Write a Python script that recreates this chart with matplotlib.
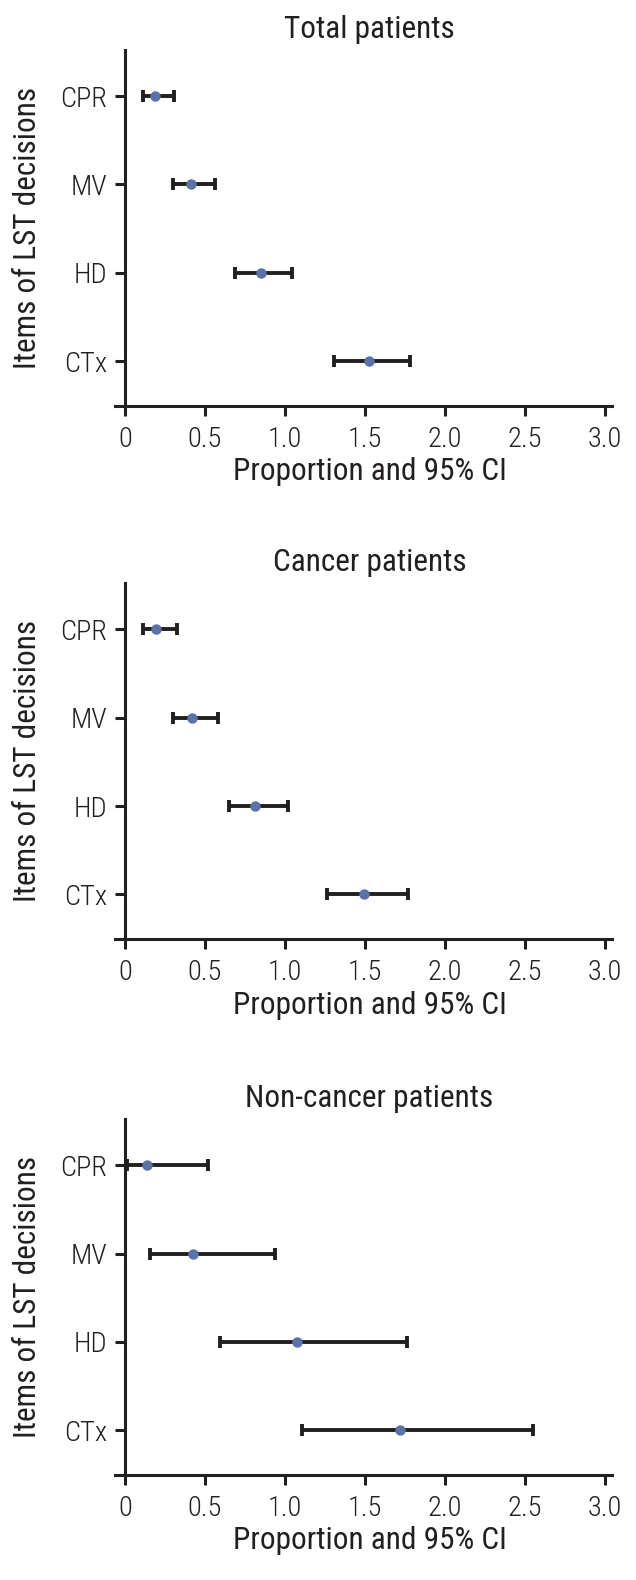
import matplotlib
matplotlib.use("Agg")
import matplotlib.pyplot as plt

plt.rcParams['font.family'] = ['Roboto Condensed', 'Archivo Narrow', 'DejaVu Sans']

items = ["CTx", "HD", "MV", "CPR"]
titles = ["Total patients", "Cancer patients", "Non-cancer patients"]

total_est = [1.523, 0.848, 0.414, 0.19]
total_lo = [1.305, 0.685, 0.30, 0.114]
total_hi = [1.78, 1.046, 0.56, 0.305]

cancer_est = [1.492, 0.815, 0.419, 0.195]
cancer_lo = [1.264, 0.65, 0.30, 0.114]
cancer_hi = [1.772, 1.02, 0.579, 0.322]

noncancer_est = [1.721, 1.076, 0.426, 0.14]
noncancer_lo = [1.104, 0.596, 0.157, 0.01]
noncancer_hi = [2.553, 1.764, 0.939, 0.52]

xticks = [0, 0.5, 1.0, 1.5, 2.0, 2.5, 3.0]
xticklabels = ["0", "0.5", "1.0", "1.5", "2.0", "2.5", "3.0"]

panels = [
    (total_est, total_lo, total_hi),
    (cancer_est, cancer_lo, cancer_hi),
    (noncancer_est, noncancer_lo, noncancer_hi),
]

ink = "#231f20"
dot = "#5a72a8"

fig = plt.figure(figsize=(6.36, 15.8), dpi=100)
bottoms = [0.7432, 0.4057, 0.0665]
fs = 22.5
tfs = 20.5

for i, (est, lo, hi) in enumerate(panels):
    ax = fig.add_axes([0.1808, bottoms[i], 0.7814, 0.2250])
    y = list(range(1, len(items) + 1))
    xerr = [[e - l for e, l in zip(est, lo)], [h - e for e, h in zip(est, hi)]]
    ax.errorbar(est, y, xerr=xerr, fmt='none', ecolor=ink, elinewidth=2.8,
                capsize=4.3, capthick=2.8, zorder=2)
    ax.plot(est, y, 'o', color=dot, markersize=6.5, zorder=3)
    ax.set_xlim(-0.0625, 3.044)
    ax.set_ylim(0.494, 4.52)
    ax.spines['top'].set_visible(False)
    ax.spines['right'].set_visible(False)
    ax.spines['left'].set_position(('data', 0))
    for s in ('left', 'bottom'):
        ax.spines[s].set_linewidth(2.2)
        ax.spines[s].set_color(ink)
    ax.set_yticks(y)
    ax.set_yticklabels(items, fontweight='light')
    ax.set_xticks(xticks)
    ax.set_xticklabels(xticklabels, fontweight='light')
    ax.tick_params(axis='both', length=7.2, width=2.2, color=ink,
                   labelsize=tfs, labelcolor=ink)
    ax.tick_params(axis='y', pad=5.8)
    ax.tick_params(axis='x', pad=7.5)
    ax.set_title(titles[i], fontsize=fs, color=ink, pad=9, x=0.512)
    ax.set_xlabel("Proportion and 95% CI", fontsize=fs, color=ink)
    ax.xaxis.set_label_coords(0.512, -0.145)
    ax.set_ylabel("Items of LST decisions", fontsize=fs, color=ink)
    ax.yaxis.set_label_coords(-0.146, 0.5)

fig.savefig("out.png", dpi=100)
